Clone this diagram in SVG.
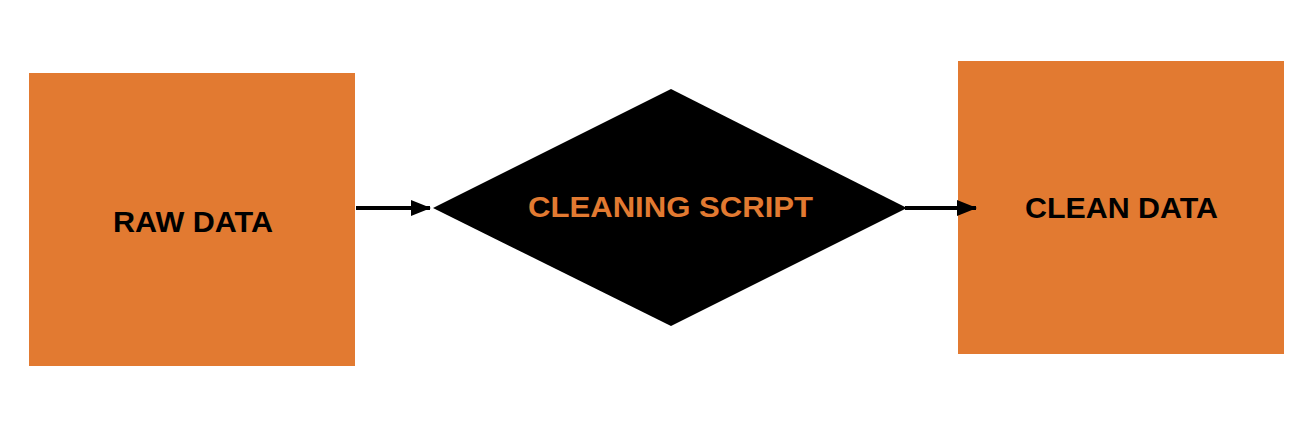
<svg xmlns="http://www.w3.org/2000/svg" width="1302" height="443" viewBox="0 0 1302 443">
<style>
.box{fill:#E27A31}
.lbl{font-family:"Liberation Sans",Arial,sans-serif;font-weight:bold;font-size:29px;text-anchor:middle}
.conn{stroke:#000;stroke-width:4;fill:none}
</style>
<defs>
<marker id="ah" markerWidth="20" markerHeight="16" refX="19" refY="8" orient="auto" markerUnits="userSpaceOnUse">
<path d="M0,0 L20,8 L0,16 Z" fill="#000"/>
</marker>
</defs>
<rect width="1302" height="443" fill="#fff"/>
<g id="raw">
<rect class="box" x="29" y="73" width="326" height="293"/>
<text class="lbl" x="193" y="232" fill="#000" textLength="160" lengthAdjust="spacingAndGlyphs">RAW DATA</text>
</g>
<g id="script">
<polygon points="671,89 907,208 671,326 433,208" fill="#000"/>
<text class="lbl" x="670.5" y="217" fill="#E27A31" font-size="30" textLength="285" lengthAdjust="spacingAndGlyphs">CLEANING SCRIPT</text>
</g>
<g id="clean">
<rect class="box" x="958" y="61" width="326" height="293"/>
<text class="lbl" x="1121.5" y="218" fill="#000" textLength="193" lengthAdjust="spacingAndGlyphs">CLEAN DATA</text>
</g>
<g id="connectors">
<line class="conn" x1="356" y1="208" x2="430" y2="208" marker-end="url(#ah)"/>
<line class="conn" x1="905" y1="208" x2="976" y2="208" marker-end="url(#ah)"/>
</g>
</svg>
